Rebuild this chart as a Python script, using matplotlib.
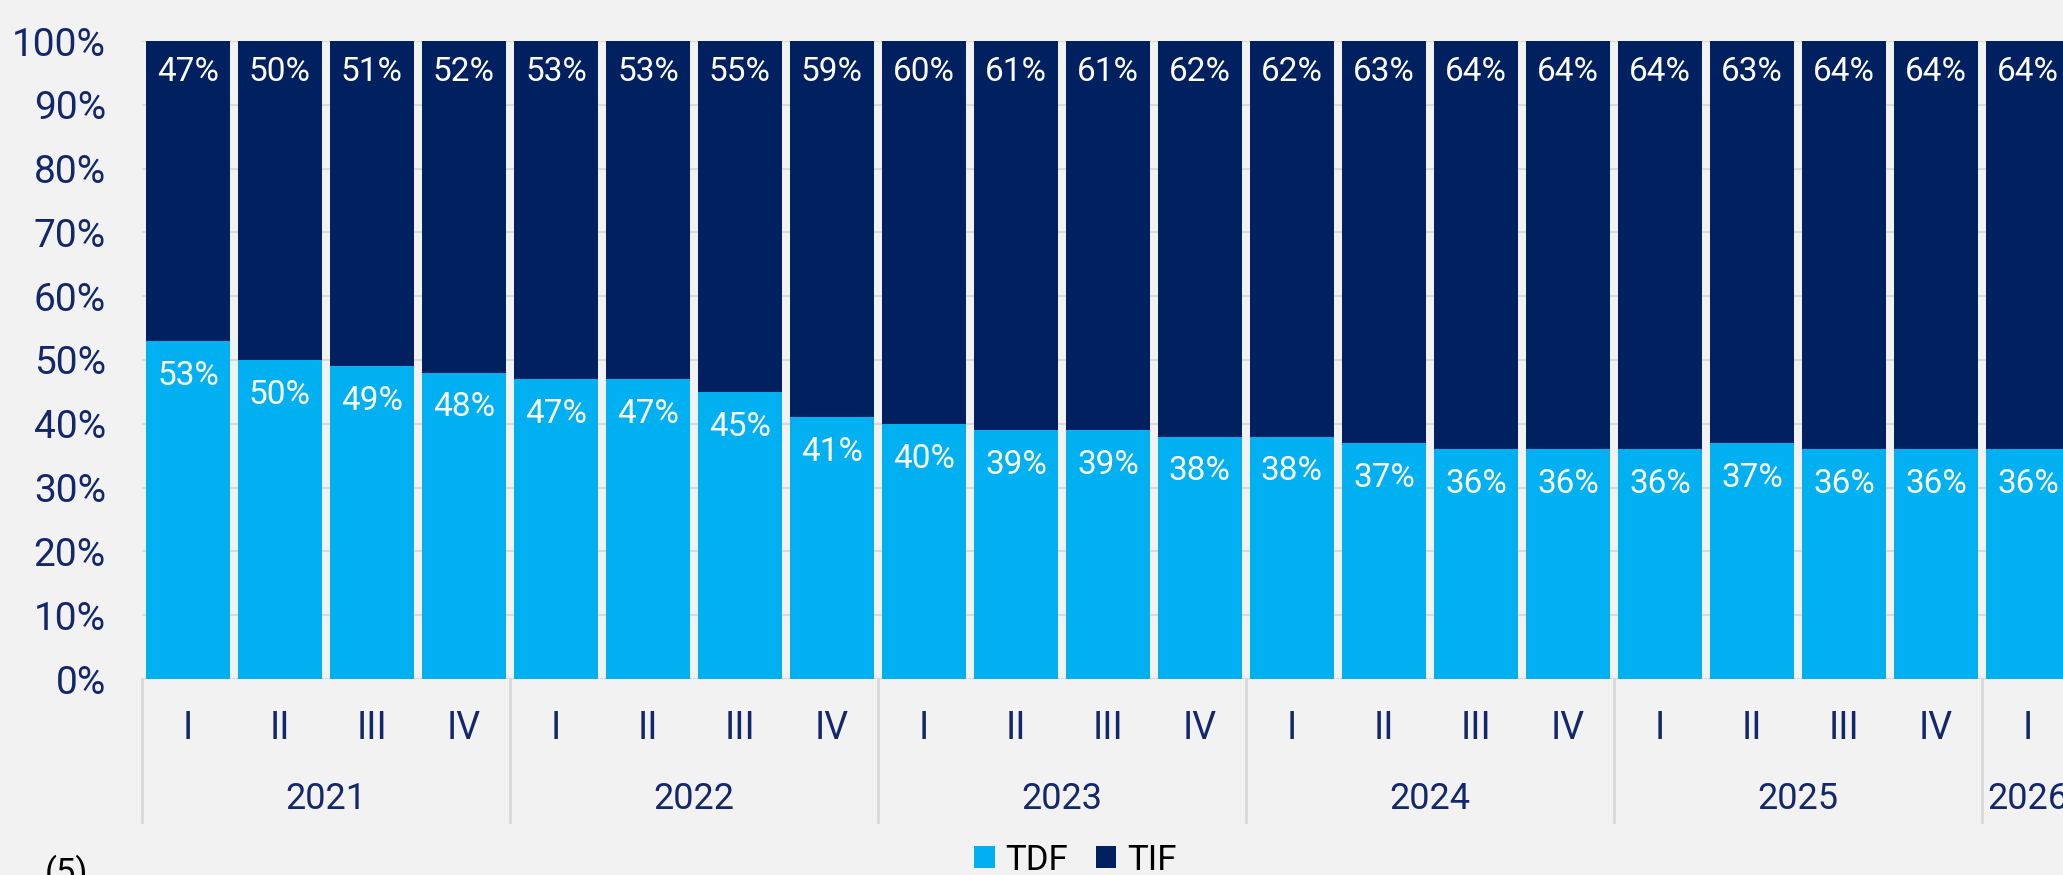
import matplotlib.pyplot as plt
import matplotlib.transforms as mtransforms
from matplotlib.patches import Patch

plt.rcParams['font.family'] = ['Roboto', 'DejaVu Sans']

# data (shares in %)
quarters = ['I', 'II', 'III', 'IV'] * 5 + ['I']
years = ['2021', '2022', '2023', '2024', '2025', '2026']
year_sizes = [4, 4, 4, 4, 4, 1]
tdf = [53, 50, 49, 48, 47, 47, 45, 41, 40, 39, 39, 38, 38, 37, 36, 36, 36, 37, 36, 36, 36]
tif = [47, 50, 51, 52, 53, 53, 55, 59, 60, 61, 61, 62, 62, 63, 64, 64, 64, 63, 64, 64, 64]

navy_text = '#12286B'
c_tdf = '#00B0F0'
c_tif = '#002060'
bg = '#F2F2F2'
grid_c = '#D9D9D9'

W, H = 2063, 875
fig = plt.figure(figsize=(W / 100, H / 100), dpi=100, facecolor=bg)
ax = fig.add_axes([142 / W, 196 / H, 1932 / W, 638 / H], facecolor=bg)

x = list(range(len(tdf)))
ax.bar(x, tdf, width=0.913, color=c_tdf, zorder=2)
ax.bar(x, tif, width=0.913, bottom=tdf, color=c_tif, zorder=2)

for i in x:
    ax.annotate(f'{tdf[i]}%', (i, tdf[i]), xytext=(0, -25), textcoords='offset points',
                ha='center', va='center', color='white', fontsize=24, zorder=3)
    ax.annotate(f'{tif[i]}%', (i, 100), xytext=(0, -22), textcoords='offset points',
                ha='center', va='center', color='white', fontsize=24, zorder=3)

ax.set_xlim(-0.5, len(x) - 0.5)
ax.set_ylim(0, 100)
ax.set_yticks(range(0, 101, 10))
ax.set_yticklabels([f'{v}%' for v in range(0, 101, 10)], fontsize=28, color=navy_text)
ax.tick_params(axis='y', length=0, pad=26)
ax.set_xticks([])
ax.yaxis.grid(True, color=grid_c, lw=1.5)
ax.set_axisbelow(True)
for s in ax.spines.values():
    s.set_visible(False)

trans = mtransforms.blended_transform_factory(ax.transData, ax.transAxes)

# quarter labels
for i, q in enumerate(quarters):
    ax.text(i, -0.077, q, transform=trans, ha='center', va='center',
            fontsize=27, color=navy_text, clip_on=False)

# year groups and separators
start = -0.5
bounds = [start]
for name, n in zip(years, year_sizes):
    ax.text(start + n / 2, -0.188, name, transform=trans, ha='center', va='center',
            fontsize=26, color=navy_text, clip_on=False)
    start += n
    bounds.append(start)
for b in bounds:
    ax.plot([b, b], [0, -0.224], transform=trans, color=grid_c, lw=2, clip_on=False)

handles = [Patch(facecolor=c_tdf, label='TDF'), Patch(facecolor=c_tif, label='TIF')]
fig.legend(handles=handles, loc='center', bbox_to_anchor=(1075 / W, 15 / H), ncol=2,
           frameon=False, fontsize=25, handlelength=0.6, handleheight=0.6,
           handletextpad=0.3, columnspacing=0.8)

fig.text(45 / W, 20 / H, '(5)', ha='left', va='top', fontsize=25, color='black')

fig.savefig('out.png', dpi=100, facecolor=bg)
